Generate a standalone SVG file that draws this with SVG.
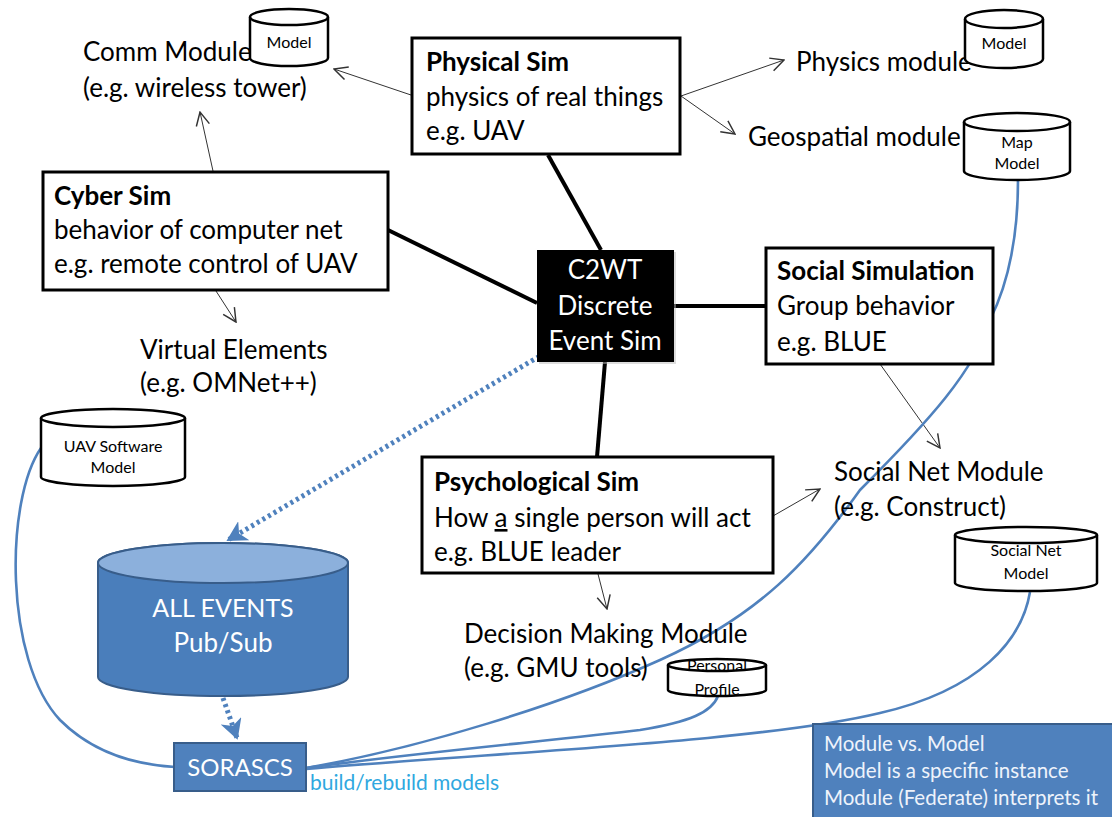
<svg xmlns="http://www.w3.org/2000/svg" width="1112" height="817" viewBox="0 0 1112 817">
  <defs>
    <style>
      text { font-family: Lato, "Liberation Sans", sans-serif; fill: #000; }
      .t { font-size: 26px; }
      .b { font-weight: bold; }
      .sm { font-size: 16px; }
      .w { fill: #fff; }
      .box { fill: #fff; stroke: #000; stroke-width: 3; }
      .cyl { fill: #fff; stroke: #000; stroke-width: 2.5; }
      .thin { stroke: #333; stroke-width: 1; fill: none; marker-end: url(#open); }
      .thick { stroke: #000; stroke-width: 4; fill: none; }
      .link { stroke: #4f81bd; stroke-width: 2.6; fill: none; }
      .dots { stroke: #4f81bd; stroke-width: 5; stroke-dasharray: 3 3.5; fill: none; }
      .note { font-size: 20.5px; fill: #eef3fb; }
    </style>
    <marker id="open" viewBox="0 0 12 12" refX="11" refY="6" markerWidth="16" markerHeight="16" markerUnits="userSpaceOnUse" orient="auto">
      <path d="M1,1 L11,6 L1,11" fill="none" stroke="#333" stroke-width="1.1"/>
    </marker>
    <marker id="blueArrow" viewBox="0 0 12 12" refX="10" refY="6" markerWidth="22" markerHeight="22" markerUnits="userSpaceOnUse" orient="auto">
      <path d="M0,0 L11,6 L0,12 L3,6 Z" fill="#4f81bd"/>
    </marker>
    <clipPath id="ppClip">
      <path d="M668,665 A49,6 0 0 1 766,665 L766,690 A49,6 0 0 1 668,690 Z"/>
    </clipPath>
  </defs>

  <rect width="1112" height="817" fill="#fff"/>

  <!-- connectors -->
  <g id="connectors">
    <!-- heavy links to the discrete event core -->
    <line class="thick" x1="548" y1="155" x2="601" y2="250"/>
    <line class="thick" x1="388" y1="230" x2="537" y2="303"/>
    <line class="thick" x1="674" y1="306" x2="766" y2="306"/>
    <line class="thick" x1="605" y1="362" x2="597" y2="457"/>

    <!-- module arrows -->
    <line class="thin" x1="411" y1="95" x2="334" y2="69"/>
    <line class="thin" x1="213" y1="171" x2="200" y2="112"/>
    <line class="thin" x1="216" y1="291" x2="236" y2="322"/>
    <line class="thin" x1="681" y1="96" x2="784" y2="60"/>
    <line class="thin" x1="681" y1="96" x2="735" y2="134"/>
    <line class="thin" x1="880" y1="364" x2="940" y2="448"/>
    <line class="thin" x1="773" y1="516" x2="820" y2="489"/>
    <line class="thin" x1="598" y1="574" x2="607" y2="609"/>

    <!-- event flow (dotted) -->
    <path class="dots" d="M545,353 L228,540" marker-end="url(#blueArrow)"/>
    <path class="dots" d="M223,698 L237,738" marker-end="url(#blueArrow)"/>

    <!-- model build paths -->
    <path class="link" d="M41,448 C 5,500 4,660 60,720 C 95,755 140,765 175,767"/>
    <path class="link" d="M306,768 C 420,748 560,705 660,660 C 760,615 810,560 860,490 C 930,420 975,370 990,320 C 1010,280 1018,230 1018,180"/>
    <path class="link" d="M306,768 C 420,752 560,740 640,730 C 690,722 712,712 718,696"/>
    <path class="link" d="M306,769 C 500,752 760,742 880,713 C 980,690 1022,640 1030,592"/>
  </g>

  <!-- Physical Sim -->
  <g id="physical-sim">
    <rect class="box" x="412" y="38" width="268" height="116"/>
    <text class="t b" x="426" y="71">Physical Sim</text>
    <text class="t" x="426" y="106">physics of real things</text>
    <text class="t" x="426" y="140">e.g. UAV</text>
  </g>

  <!-- Cyber Sim -->
  <g id="cyber-sim">
    <rect class="box" x="43" y="172" width="345" height="118"/>
    <text class="t b" x="54" y="205">Cyber Sim</text>
    <text class="t" x="54" y="239">behavior of computer net</text>
    <text class="t" x="54" y="273">e.g. remote control of UAV</text>
  </g>

  <!-- C2WT core -->
  <g id="c2wt">
    <rect x="539" y="252" width="137" height="112" fill="#bbb" opacity="0.5"/>
    <rect x="537" y="250" width="137" height="112" fill="#000"/>
    <text class="t w" x="605" y="279" text-anchor="middle">C2WT</text>
    <text class="t w" x="605" y="315" text-anchor="middle">Discrete</text>
    <text class="t w" x="605" y="350" text-anchor="middle">Event Sim</text>
  </g>

  <!-- Social Simulation -->
  <g id="social-sim">
    <rect class="box" x="766" y="248" width="227" height="116"/>
    <text class="t b" x="777" y="280">Social Simulation</text>
    <text class="t" x="777" y="315">Group behavior</text>
    <text class="t" x="777" y="351">e.g. BLUE</text>
  </g>

  <!-- Psychological Sim -->
  <g id="psych-sim">
    <rect class="box" x="422" y="457" width="351" height="116"/>
    <text class="t b" x="434" y="491">Psychological Sim</text>
    <text class="t" x="434" y="527">How <tspan text-decoration="underline">a</tspan> single person will act</text>
    <text class="t" x="434" y="561">e.g. BLUE leader</text>
  </g>

  <!-- Comm module -->
  <g id="comm-module">
    <text class="t" x="83" y="61">Comm Module</text>
    <text class="t" x="83" y="97">(e.g. wireless tower)</text>
  </g>
  <g id="comm-model">
    <path class="cyl" d="M250,17 A39,8 0 0 1 328,17 L328,58 A39,8 0 0 1 250,58 Z"/>
    <path d="M250,17 A39,8 0 0 0 328,17" fill="none" stroke="#000" stroke-width="2.5"/>
    <text class="sm" x="289" y="48" text-anchor="middle">Model</text>
  </g>

  <!-- Physics module -->
  <g id="physics-module">
    <text class="t" x="796" y="71">Physics module</text>
  </g>
  <g id="physics-model">
    <path class="cyl" d="M965,19 A39,9 0 0 1 1043,19 L1043,59 A39,9 0 0 1 965,59 Z"/>
    <path d="M965,19 A39,9 0 0 0 1043,19" fill="none" stroke="#000" stroke-width="2.5"/>
    <text class="sm" x="1004" y="49" text-anchor="middle">Model</text>
  </g>

  <!-- Geospatial module -->
  <g id="geo-module">
    <text class="t" x="748" y="146">Geospatial module</text>
  </g>
  <g id="map-model">
    <path class="cyl" d="M964,122 A53,9 0 0 1 1070,122 L1070,171 A53,9 0 0 1 964,171 Z"/>
    <path d="M964,122 A53,9 0 0 0 1070,122" fill="none" stroke="#000" stroke-width="2.5"/>
    <text class="sm" x="1017" y="148" text-anchor="middle">Map</text>
    <text class="sm" x="1017" y="169" text-anchor="middle">Model</text>
  </g>

  <!-- Virtual elements -->
  <g id="virtual-elements">
    <text class="t" x="140" y="359">Virtual Elements</text>
    <text class="t" x="140" y="392">(e.g. OMNet++)</text>
  </g>

  <!-- UAV software model -->
  <g id="uav-model">
    <path class="cyl" d="M41,418 A72,9 0 0 1 185,418 L185,477 A72,9 0 0 1 41,477 Z"/>
    <path d="M41,418 A72,9 0 0 0 185,418" fill="none" stroke="#000" stroke-width="2.5"/>
    <text class="sm" x="113" y="452" text-anchor="middle">UAV Software</text>
    <text class="sm" x="113" y="473" text-anchor="middle">Model</text>
  </g>

  <!-- Social net module -->
  <g id="social-net-module">
    <text class="t" x="834" y="481">Social Net Module</text>
    <text class="t" x="834" y="516">(e.g. Construct)</text>
  </g>
  <g id="social-net-model">
    <path class="cyl" d="M955,535 A71,8 0 0 1 1097,535 L1097,583 A71,8 0 0 1 955,583 Z"/>
    <path d="M955,535 A71,8 0 0 0 1097,535" fill="none" stroke="#000" stroke-width="2.5"/>
    <text class="sm" x="1026" y="556" text-anchor="middle">Social Net</text>
    <text class="sm" x="1026" y="579" text-anchor="middle">Model</text>
  </g>

  <!-- Decision making module -->
  <g id="decision-module">
    <text class="t" x="464" y="643">Decision Making Module</text>
    <text class="t" x="464" y="677">(e.g. GMU tools)</text>
  </g>
  <g id="personal-profile">
    <g clip-path="url(#ppClip)">
      <text class="sm" x="717" y="671" text-anchor="middle">Personal</text>
      <text class="sm" x="717" y="695" text-anchor="middle">Profile</text>
    </g>
    <path d="M668,665 A49,6 0 0 1 766,665 L766,690 A49,6 0 0 1 668,690 Z" fill="none" stroke="#000" stroke-width="2.5"/>
    <path d="M668,665 A49,6 0 0 0 766,665" fill="none" stroke="#000" stroke-width="2.5"/>
  </g>

  <!-- Pub/Sub event store -->
  <g id="all-events">
    <path d="M98,563 A125,20 0 0 1 348,563 L348,677 A125,19 0 0 1 98,677 Z" fill="#4a7ebb" stroke="#385d8a" stroke-width="2"/>
    <ellipse cx="223" cy="563" rx="125" ry="20" fill="#8cb0dc" stroke="#385d8a" stroke-width="2"/>
    <text class="w" x="223" y="617" text-anchor="middle" font-size="25">ALL EVENTS</text>
    <text class="w" x="223" y="652" text-anchor="middle" font-size="26">Pub/Sub</text>
  </g>

  <!-- SORASCS -->
  <g id="sorascs">
    <rect x="174" y="743" width="132" height="48" fill="#4f81bd" stroke="#385d8a" stroke-width="2"/>
    <text class="w" x="240" y="776" text-anchor="middle" font-size="24">SORASCS</text>
    <text x="310" y="790" font-size="21" style="fill:#2fa8e0">build/rebuild models</text>
  </g>

  <!-- Legend note -->
  <g id="note">
    <rect x="813" y="724" width="302" height="96" fill="#4f81bd" stroke="#385d8a" stroke-width="2"/>
    <text class="note" x="824" y="751">Module vs. Model</text>
    <text class="note" x="824" y="778">Model is a specific instance</text>
    <text class="note" x="824" y="805">Module (Federate) interprets it</text>
  </g>
</svg>
